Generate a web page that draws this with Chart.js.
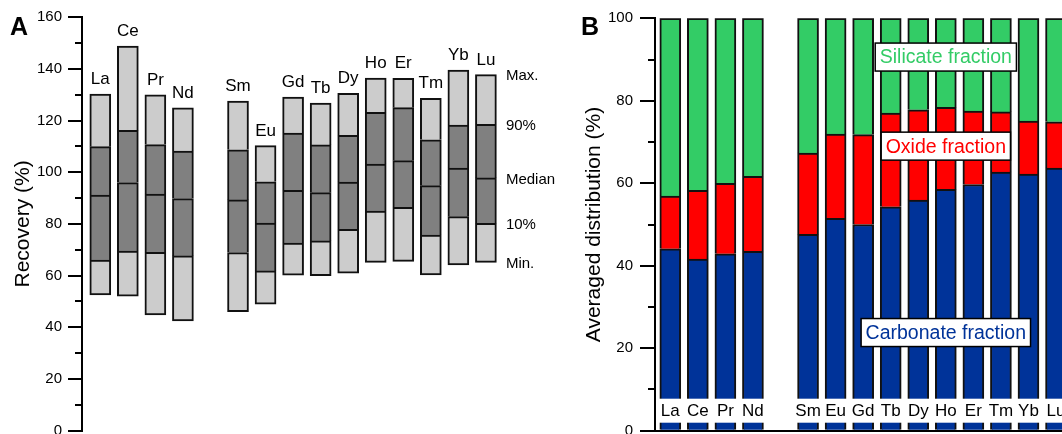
<!DOCTYPE html>
<html>
<head>
<meta charset="utf-8">
<script src="https://cdn.jsdelivr.net/npm/chart.js@4.4.0/dist/chart.umd.min.js"></script>
<style>
  html, body { margin: 0; padding: 0; background: #fff; }
  body { width: 1062px; height: 434px; overflow: hidden; position: relative; font-family: 'Liberation Sans', Arial, sans-serif; }
  canvas { position: absolute; top: 0; }
  .tag { position: absolute; font-weight: bold; font-size: 25px; line-height: 25px; color: #000; }
</style>
</head>
<body>
<canvas id="recovery" style="left:0" width="560" height="470"></canvas>
<canvas id="distribution" style="left:560px" width="540" height="470"></canvas>
<div class="tag" style="left:10px;top:14px">A</div>
<div class="tag" style="left:581px;top:14px">B</div>
<script>
const FONT = "'Liberation Sans', Arial, Helvetica, sans-serif";
Chart.defaults.font.family = FONT;
Chart.defaults.color = '#000';
Chart.defaults.animation = false;

// REE, Pm has no data and only keeps the gap
const elements = ['La', 'Ce', 'Pr', 'Nd', 'Pm', 'Sm', 'Eu', 'Gd', 'Tb', 'Dy', 'Ho', 'Er', 'Tm', 'Yb', 'Lu'];

// A: recovery (%)
const recMin    = [52.5, 52.0, 44.8, 42.4, null, 46.0, 48.9, 60.1, 60.0, 60.9, 65.1, 65.5, 60.2, 64.1, 65.1];
const recP10    = [66.0, 69.5, 69.0, 67.6, null, 68.9, 61.8, 72.6, 73.4, 77.9, 85.0, 86.4, 75.7, 82.8, 80.2];
const recMedian = [91.2, 96.0, 91.5, 89.8, null, 89.3, 80.3, 93.0, 92.1, 96.2, 103.2, 104.5, 94.8, 101.6, 97.8];
const recP90    = [109.9, 116.2, 110.7, 108.2, null, 108.7, 96.3, 115.2, 110.6, 114.3, 123.2, 125.0, 112.6, 118.3, 118.6];
const recMax    = [130.3, 148.9, 130.0, 124.9, null, 127.6, 110.3, 129.1, 126.8, 130.6, 136.5, 136.4, 128.6, 139.6, 137.8];
const recTicks = [0, 20, 40, 60, 80, 100, 120, 140, 160];
const recMinor = [10, 30, 50, 70, 90, 110, 130, 150];
const statNames = ['Max.', '90%', 'Median', '10%', 'Min.'];

// B: averaged distribution (%)
const carbonate = [44.1, 41.6, 42.9, 43.5, null, 47.6, 51.5, 50.0, 54.3, 55.9, 58.5, 59.7, 62.7, 62.2, 63.7];
const oxide     = [12.8, 16.7, 17.1, 18.2, null, 19.7, 20.4, 21.8, 22.7, 21.9, 19.9, 17.8, 14.6, 12.9, 11.2];
const silicate  = [43.1, 41.7, 40.0, 38.3, null, 32.7, 28.1, 28.2, 23.0, 22.2, 21.6, 22.5, 22.7, 24.9, 25.1];
const distTicks = [0, 20, 40, 60, 80, 100];
const distMinor = [10, 30, 50, 70, 90];
const fractionNames = ['Carbonate fraction', 'Oxide fraction', 'Silicate fraction'];
const fractionColors = ['#003399', '#ff0000', '#33cc66'];
const tagSlot = 10;
const tagLevels = [23.8, 69.0, 90.6];

function points(fn) {
  return elements.map((e, i) => fn(i) == null ? null : {x: i, y: fn(i)}).filter(p => p);
}

function slotTicks(scale) {
  scale.ticks = elements.map((e, i) => ({value: i}));
}

function minorTicks(values) {
  return {
    id: 'minorTicks',
    afterDraw(chart) {
      const {ctx, chartArea} = chart;
      const y = chart.scales.y;
      ctx.save();
      ctx.strokeStyle = '#000';
      ctx.lineWidth = 2;
      values.forEach(v => {
        const py = Math.round(y.getPixelForValue(v));
        ctx.beginPath();
        ctx.moveTo(chartArea.left - 7, py);
        ctx.lineTo(chartArea.left, py);
        ctx.stroke();
      });
      ctx.restore();
    }
  };
}

function yAxis(ticks, width, title, titlePad, tickLen, pad) {
  return {
    min: ticks[0], max: ticks[ticks.length - 1],
    afterFit: s => { s.width = width; },
    afterBuildTicks: s => { s.ticks = ticks.map(v => ({value: v})); },
    grid: {drawOnChartArea: false, tickLength: tickLen, lineWidth: 2, tickColor: '#000'},
    border: {color: '#000', width: 2},
    ticks: {color: '#000', font: {size: 15}, padding: pad},
    title: {display: true, text: title, color: '#000', font: {size: 21}, padding: {top: titlePad, bottom: 0}}
  };
}

// ---- A: recovery boxes ----
const segments = [
  [recMin, recP10, '#cccccc', false],
  [recP10, recMedian, '#808080', 'bottom'],
  [recMedian, recP90, '#808080', 'bottom'],
  [recP90, recMax, '#cccccc', 'bottom']
];

const recLabels = {
  id: 'recLabels',
  afterDatasetsDraw(chart) {
    const {ctx} = chart;
    const x = chart.scales.x, y = chart.scales.y;
    ctx.save();
    ctx.fillStyle = '#000';
    ctx.font = '17px ' + FONT;
    ctx.textAlign = 'center';
    ctx.textBaseline = 'alphabetic';
    elements.forEach((name, i) => {
      if (recMax[i] == null) return;
      ctx.fillText(name, x.getPixelForValue(i), y.getPixelForValue(recMax[i]) - 10);
    });
    // legend of the box levels, next to the last box
    const last = elements.length - 1;
    const levels = [recMax[last], recP90[last], recMedian[last], recP10[last], recMin[last]];
    ctx.font = '15px ' + FONT;
    ctx.textAlign = 'left';
    ctx.textBaseline = 'middle';
    statNames.forEach((s, k) => {
      ctx.fillText(s, x.getPixelForValue(last) + 20, y.getPixelForValue(levels[k]) + 1.5);
    });
    ctx.restore();
  }
};

new Chart(document.getElementById('recovery'), {
  type: 'bar',
  data: {
    datasets: segments.map(([lo, hi, color, skip]) => ({
      data: points(i => lo[i] == null ? null : [lo[i], hi[i]]),
      backgroundColor: color,
      borderColor: '#111',
      borderWidth: 2,
      borderSkipped: skip,
      grouped: false,
      categoryPercentage: 1,
      barPercentage: 1,
      maxBarThickness: 21
    }))
  },
  options: {
    responsive: false,
    layout: {padding: {left: 0, top: 17.3, right: 19, bottom: 39.5}},
    plugins: {legend: {display: false}, tooltip: {enabled: false}},
    scales: {
      x: {type: 'linear', display: false, offset: false, min: -0.664, max: 16, afterBuildTicks: slotTicks},
      y: yAxis(recTicks, 82, 'Recovery (%)', 10.4, 14, 6)
    }
  },
  plugins: [recLabels, minorTicks(recMinor)]
});

// ---- B: fractions ----
const distLabels = {
  id: 'distLabels',
  afterDatasetsDraw(chart) {
    const {ctx, chartArea} = chart;
    const x = chart.scales.x, y = chart.scales.y;
    const slotW = x.getPixelForValue(1) - x.getPixelForValue(0);
    ctx.save();
    ctx.font = '17px ' + FONT;
    ctx.textAlign = 'center';
    ctx.textBaseline = 'alphabetic';
    elements.forEach((name, i) => {
      if (carbonate[i] == null) return;
      const px = x.getPixelForValue(i);
      ctx.fillStyle = '#fff';
      ctx.fillRect(px - slotW / 2, chartArea.bottom - 32, slotW, 24);
      ctx.fillStyle = '#000';
      ctx.fillText(name, px, chartArea.bottom - 15);
    });
    ctx.font = '19.5px ' + FONT;
    ctx.textBaseline = 'middle';
    fractionNames.forEach((t, k) => {
      const cx = x.getPixelForValue(tagSlot), cy = y.getPixelForValue(tagLevels[k]);
      const w = ctx.measureText(t).width + 9, h = 28;
      ctx.fillStyle = '#fff';
      ctx.fillRect(cx - w / 2, cy - h / 2, w, h);
      ctx.strokeStyle = '#000';
      ctx.lineWidth = 1.5;
      ctx.strokeRect(cx - w / 2, cy - h / 2, w, h);
      ctx.fillStyle = fractionColors[k];
      ctx.fillText(t, cx, cy + 1);
    });
    ctx.restore();
  }
};

new Chart(document.getElementById('distribution'), {
  type: 'bar',
  data: {
    datasets: [carbonate, oxide, silicate].map((arr, k) => ({
      label: fractionNames[k],
      data: points(i => arr[i]),
      backgroundColor: fractionColors[k],
      borderColor: '#111',
      borderWidth: 2,
      categoryPercentage: 1,
      barPercentage: 1,
      maxBarThickness: 21
    }))
  },
  options: {
    responsive: false,
    layout: {padding: {left: 0, top: 18.3, right: 20, bottom: 39.3}},
    plugins: {legend: {display: false}, tooltip: {enabled: false}},
    scales: {
      x: {
        type: 'linear', stacked: true, offset: false, min: -0.555, max: 14.87, afterBuildTicks: slotTicks,
        grid: {display: false, drawTicks: false}, ticks: {display: false},
        border: {color: '#000', width: 2}
      },
      y: Object.assign(yAxis(distTicks, 95, 'Averaged distribution (%)', 21.4, 15, 7), {stacked: true})
    }
  },
  plugins: [distLabels, minorTicks(distMinor)]
});
</script>
</body>
</html>
